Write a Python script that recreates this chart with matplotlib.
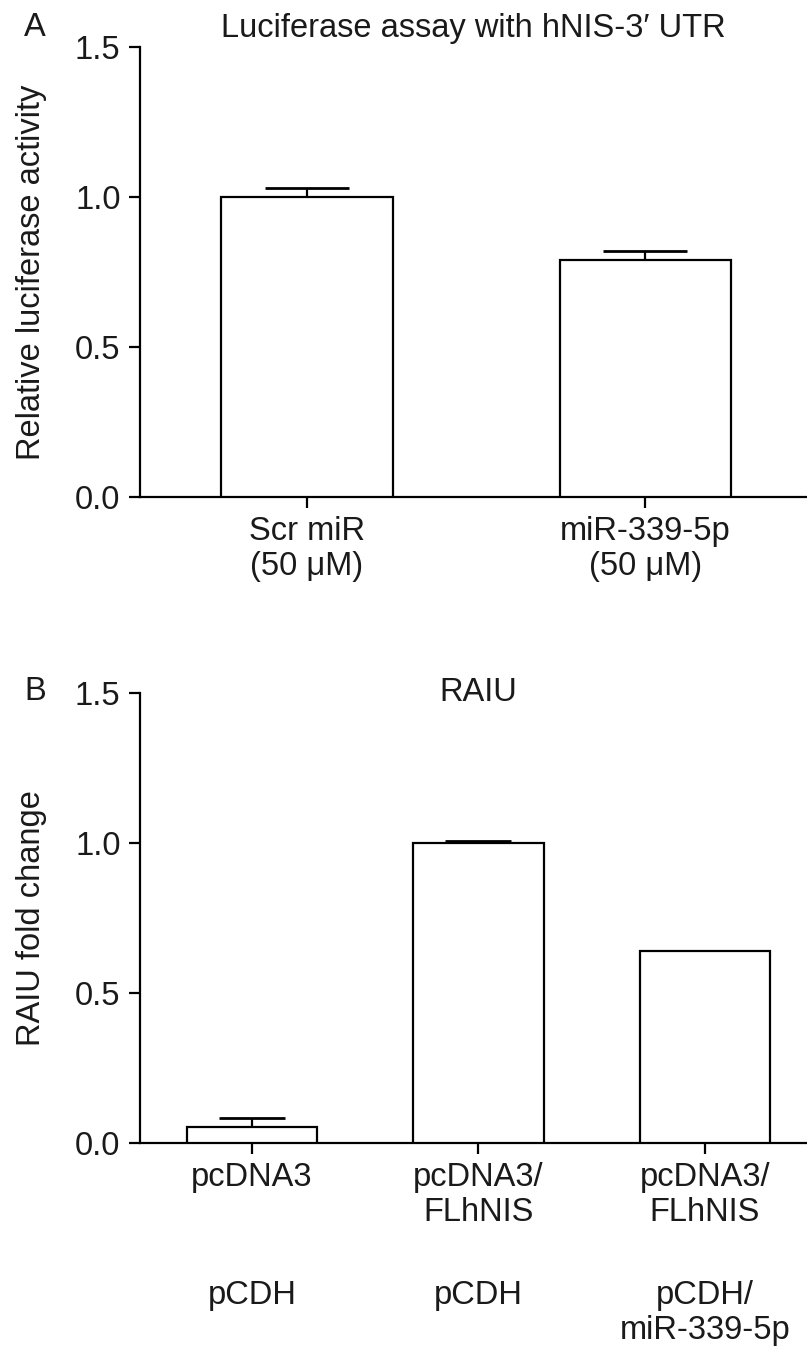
import matplotlib
matplotlib.use("Agg")
import matplotlib.pyplot as plt
import matplotlib.transforms as mtransforms

plt.rcParams['font.family'] = ['Liberation Sans', 'DejaVu Sans']

# Panel A data
a_labels = ["Scr miR\n(50 \u03bcM)", "miR-339-5p\n(50 \u03bcM)"]
a_values = [1.0, 0.79]
a_err = [0.029, 0.030]

# Panel B data
b_labels = ["pcDNA3", "pcDNA3/\nFLhNIS", "pcDNA3/\nFLhNIS"]
b_labels2 = ["pCDH", "pCDH", "pCDH/\nmiR-339-5p"]
b_values = [0.053, 1.0, 0.64]
b_err = [0.030, 0.007, 0.0]

yticks = [0.0, 0.5, 1.0, 1.5]
fs = 23.5
lw = 1.6
tc = '#1a1a1a'

fig = plt.figure(figsize=(8.07, 13.51), dpi=100)


def style(ax):
    for s in ['top', 'right']:
        ax.spines[s].set_visible(False)
    for s in ['left', 'bottom']:
        ax.spines[s].set_linewidth(lw)
        ax.spines[s].set_color('black')
    ax.set_ylim(0, 1.5)
    ax.set_yticks(yticks)
    ax.set_yticklabels(["%.1f" % t for t in yticks])
    ax.tick_params(axis='both', length=8, width=lw, labelsize=fs, colors='black',
                   labelcolor=tc, pad=6)


def upper_err(ax, xs, vals, errs, cap):
    # only the upper half of the error bar, skip empty ones
    for x, v, e in zip(xs, vals, errs):
        if e <= 0:
            continue
        eb = ax.errorbar([x], [v], yerr=[[0], [e]], fmt='none', ecolor='black',
                         elinewidth=lw, capsize=cap, capthick=lw + 0.4)
        eb[1][0].set_visible(False)


# ---- Panel A ----
axA = fig.add_axes([0.1735, 0.6321, 0.8265, 0.3331])
xa = list(range(len(a_values)))
axA.bar(xa, a_values, width=0.506, color='white', edgecolor='black', linewidth=lw, zorder=3)
upper_err(axA, xa, a_values, a_err, 30)
axA.set_xlim(-0.494, 1.479)
style(axA)
axA.set_xticks(xa)
axA.set_xticklabels(a_labels, linespacing=1.15)
axA.set_ylabel("Relative luciferase activity", fontsize=fs, color=tc, labelpad=20)
axA.set_title("Luciferase assay with hNIS-3\u2032 UTR", fontsize=fs, color=tc, pad=7)
fig.text(35 / 807, 1 - 27 / 1351, "A", fontsize=fs, color=tc, ha='center', va='center')

# ---- Panel B ----
axB = fig.add_axes([0.1735, 0.1540, 0.8265, 0.3331])
xb = list(range(len(b_values)))
axB.bar(xb, b_values, width=0.574, color='white', edgecolor='black', linewidth=lw, zorder=3)
upper_err(axB, xb, b_values, b_err, 23.5)
axB.set_xlim(-0.494, 2.45)
style(axB)
axB.set_xticks(xb)
axB.set_xticklabels(b_labels, linespacing=1.15, va='top')
axB.set_ylabel("RAIU fold change", fontsize=fs, color=tc, labelpad=20)
axB.text(1, 1.5, "RAIU", fontsize=fs, color=tc, ha='center', va='center')
trans = mtransforms.blended_transform_factory(axB.transData, axB.transAxes)
for x, lab in zip(xb, b_labels2):
    axB.text(x, -0.305, lab, transform=trans, fontsize=fs, color=tc, ha='center', va='top',
             linespacing=1.15)
fig.text(35 / 807, 1 - 692 / 1351, "B", fontsize=fs, color=tc, ha='center', va='center')

fig.savefig("out.png", dpi=100)
